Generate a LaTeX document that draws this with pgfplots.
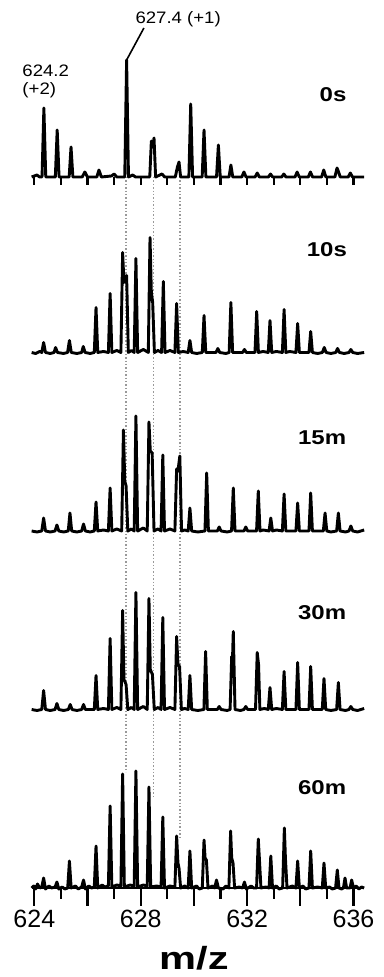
\documentclass[border=0pt]{standalone}
\usepackage{pgfplots}
\usepackage{pgfplotstable}
\pgfplotsset{compat=1.18}
\usepackage{fontspec}
\setmainfont{Liberation Sans}
\usepackage{graphicx}

% spectrum 0 s (heights above its own baseline)
\pgfplotstableread{
x h
623.90 0
624.10 2
624.20 0
624.29 0
624.36 69
624.43 0
624.79 0
624.86 47
624.93 0
625.31 0
625.38 30
625.45 0
625.80 0
625.90 5
626.00 0
626.35 0
626.43 7
626.52 0
626.90 1
627.00 3
627.10 0
627.40 0
627.47 117
627.54 0
627.70 2
627.80 0
628.34 0
628.40 36
628.45 30
628.50 39
628.56 0
628.80 3
628.90 0
629.30 0
629.38 10
629.44 15
629.50 0
629.81 0
629.88 73
629.95 0
630.31 0
630.38 47
630.45 0
630.85 0
630.92 32
630.99 0
631.32 0
631.39 12
631.46 0
631.80 0
631.88 5
631.96 0
632.30 0
632.38 4
632.46 0
632.80 0
632.88 3
632.96 0
633.30 0
633.38 3
633.46 0
633.80 0
633.88 5
633.96 0
634.30 0
634.38 5
634.46 0
634.80 0
634.88 7
634.96 0
635.30 0
635.38 9
635.44 5
635.50 0
635.80 0
635.88 4
635.96 0
636.40 0
}\specA

% spectrum 10 s
\pgfplotstableread{
x h
623.90 0
624.05 -1
624.20 1
624.28 0
624.35 10
624.42 0
624.60 -1
624.74 0
624.80 5
624.87 0
625.10 -1
625.25 0
625.32 12
625.39 0
625.60 -1
625.78 0
625.84 6
625.91 0
626.10 -1
626.255 0
626.32 45
626.385 0
626.60 1
626.785 0
626.85 59
626.915 0
627.10 2
627.255 0
627.32 100
627.37 70
627.41 72
627.47 77
627.535 0
627.65 2
627.755 0
627.82 94
627.885 0
628.10 3
628.285 0
628.35 115
628.40 60
628.45 50
628.515 0
628.65 2
628.785 0
628.85 71
628.915 0
629.10 2
629.285 0
629.35 49
629.415 0
629.60 1
629.785 0
629.85 12
629.915 0
630.10 -1
630.315 0
630.38 37
630.445 0
630.83 0
630.90 4
630.97 0
631.20 -1
631.325 0
631.39 50
631.455 0
631.83 0
631.90 3
631.97 0
632.295 0
632.36 41
632.425 0
632.60 1
632.795 0
632.86 32
632.925 0
633.10 1
633.325 0
633.39 43
633.455 0
633.60 1
633.835 0
633.90 29
633.965 0
634.10 0
634.325 0
634.39 21
634.455 0
634.65 -1
634.83 0
634.90 5
634.97 0
635.15 -1
635.33 0
635.40 4
635.47 0
635.65 -1
635.83 0
635.90 3
635.97 0
636.15 -1
636.40 0
}\specB

% spectrum 15 m
\pgfplotstableread{
x h
623.90 0
624.10 -1
624.28 0
624.35 13
624.42 0
624.60 -1
624.78 0
624.85 6
624.92 0
625.10 -1
625.275 0
625.34 18
625.405 0
625.60 -1
625.78 0
625.85 7
625.92 0
626.10 -1
626.255 0
626.32 29
626.385 0
626.60 1
626.785 0
626.85 43
626.915 0
627.10 2
627.285 0
627.35 101
627.40 50
627.45 45
627.515 0
627.65 2
627.755 0
627.82 115
627.885 0
628.10 3
628.245 0
628.31 109
628.36 80
628.43 78
628.50 0
628.65 2
628.765 0
628.83 76
628.895 0
629.10 2
629.285 0
629.35 62
629.40 60
629.47 75
629.535 0
629.65 1
629.785 0
629.85 23
629.915 0
630.15 -1
630.415 0
630.48 58
630.545 0
630.88 0
630.95 4
631.02 0
631.25 -1
631.415 0
631.48 43
631.545 0
631.88 0
631.95 4
632.02 0
632.355 0
632.42 40
632.485 0
632.60 1
632.825 0
632.89 13
632.955 0
633.10 1
633.325 0
633.39 37
633.455 0
633.60 0
633.835 0
633.90 28
633.965 0
634.10 0
634.325 0
634.39 38
634.455 0
634.65 0
634.865 0
634.93 18
634.995 0
635.15 -1
635.365 0
635.43 18
635.495 0
635.70 -1
635.83 0
635.90 5
635.97 0
636.15 -1
636.40 1
}\specC

% spectrum 30 m
\pgfplotstableread{
x h
623.90 0
624.10 -1
624.28 0
624.35 19
624.42 0
624.60 -1
624.78 0
624.85 6
624.92 0
625.10 -1
625.28 0
625.35 5
625.42 0
625.60 -1
625.78 0
625.85 5
625.92 0
626.10 0
626.255 0
626.32 34
626.385 0
626.60 1
626.785 0
626.85 71
626.915 0
627.10 2
627.255 0
627.32 99
627.37 30
627.45 25
627.515 0
627.65 2
627.755 0
627.82 117
627.885 0
628.10 3
628.245 0
628.31 111
628.36 40
628.44 35
628.51 0
628.65 2
628.765 0
628.83 92
628.895 0
629.10 2
629.285 0
629.35 73
629.40 45
629.46 43
629.53 0
629.65 1
629.785 0
629.85 34
629.915 0
630.15 -1
630.375 0
630.44 58
630.505 0
630.88 0
630.95 3
631.02 0
631.25 -1
631.36 0
631.42 53
631.45 50
631.48 78
631.545 0
631.75 -1
631.88 0
631.95 3
632.02 0
632.315 0
632.38 57
632.43 45
632.48 0
632.65 1
632.795 0
632.86 22
632.925 0
633.10 1
633.325 0
633.39 38
633.455 0
633.65 0
633.835 0
633.90 47
633.965 0
634.15 0
634.325 0
634.39 43
634.455 0
634.65 0
634.825 0
634.89 31
634.955 0
635.15 -1
635.365 0
635.43 27
635.495 0
635.70 -1
635.83 0
635.90 3
635.97 0
636.15 -1
636.40 1
}\specD

% spectrum 60 m
\pgfplotstableread{
x h
623.90 0
623.98 2
624.05 -1
624.12 4
624.20 0
624.28 1
624.35 10
624.42 -1
624.55 2
624.65 0
624.78 1
624.85 6
624.92 -1
625.05 1
625.15 -1
625.255 0
625.32 27
625.385 0
625.55 2
625.65 -1
625.78 1
625.85 8
625.92 -1
626.05 2
626.15 0
626.255 1
626.32 42
626.385 0
626.55 3
626.65 1
626.785 2
626.85 82
626.915 1
627.10 3
627.255 2
627.32 114
627.385 1
627.60 3
627.755 2
627.82 117
627.885 1
628.10 3
628.245 2
628.31 101
628.375 1
628.60 2
628.765 1
628.83 71
628.895 0
629.10 2
629.285 1
629.35 52
629.40 25
629.44 20
629.50 0
629.65 2
629.785 0
629.85 37
629.915 0
630.10 2
630.20 -1
630.315 0
630.38 48
630.42 30
630.47 28
630.53 0
630.70 2
630.78 0
630.85 8
630.92 0
631.10 -1
631.20 2
631.315 0
631.38 57
631.42 30
631.47 25
631.53 0
631.70 1
631.83 0
631.90 6
631.97 -1
632.15 2
632.25 0
632.355 0
632.42 49
632.46 30
632.52 0
632.70 1
632.825 0
632.89 32
632.955 0
633.10 2
633.20 -1
633.335 0
633.40 60
633.44 30
633.50 0
633.70 2
633.835 0
633.90 27
633.965 0
634.10 2
634.20 -1
634.325 0
634.39 37
634.455 0
634.65 1
634.825 0
634.89 25
634.955 0
635.10 1
635.20 -1
635.325 0
635.39 18
635.455 0
635.55 -1
635.62 0
635.68 10
635.74 0
635.87 0
635.93 8
636.00 0
636.10 2
636.20 -1
636.30 1
636.40 0
}\specE

% ticks under the top spectrum
\pgfplotstableread{
x y
624 707
625 707
626 707
627 707
628 707
629 707
630 707
631 707
632 707
633 707
634 707
635 707
636 707
}\topticks

\newcommand{\lab}[1]{{\bfseries\fontsize{10}{12}\selectfont\scalebox{1.2}[1]{#1}}}
\newcommand{\ann}[1]{{\fontsize{8.3}{9.6}\selectfont\scalebox{1.12}[1]{#1}}}

\begin{document}
\begin{tikzpicture}
\begin{axis}[
  x=13.3pt, y=0.5pt,
  xmin=623.9, xmax=636.4, ymin=0, ymax=888,
  axis x line=bottom, axis y line=none,
  x axis line style={-, line width=1.2pt},
  clip=false,
  xtick={624,626,628,630,632,634,636},
  xticklabels={624,,628,,632,,636},
  minor xtick={625,627,629,631,633,635},
  tick align=outside,
  major tick length=9pt, minor tick length=5.5pt,
  tick style={black, line width=1.1pt},
  xticklabel style={font=\fontsize{12.5}{14}\selectfont, inner sep=2pt},
  /pgf/number format/assume math mode=true,
]
% dotted guide lines
\addplot[gray!80, densely dotted, line width=0.7pt] coordinates {(627.45,711) (627.45,116)};
\addplot[gray!80, densely dotted, line width=0.7pt] coordinates {(628.47,711) (628.47,90)};
\addplot[gray!80, densely dotted, line width=0.7pt] coordinates {(629.47,711) (629.47,51)};

% spectra
\addplot[black, line width=1.45pt, line join=round] table[x=x, y expr=\thisrow{h}+711] {\specA};
\addplot[black, line width=1.45pt, line join=round] table[x=x, y expr=\thisrow{h}+535.5] {\specB};
\addplot[black, line width=1.45pt, line join=round] table[x=x, y expr=\thisrow{h}+357] {\specC};
\addplot[black, line width=1.45pt, line join=round] table[x=x, y expr=\thisrow{h}+178.5] {\specD};
\addplot[black, line width=1.45pt, line join=round] table[x=x, y=h] {\specE};

% ticks on the top baseline
\addplot[only marks, mark=|, mark size=2pt, mark options={black, line width=1.1pt}] table[x=x, y=y] {\topticks};

% labels
\node at (axis cs:635.23,793) {\lab{0s}};
\node at (axis cs:635.00,638) {\lab{10s}};
\node at (axis cs:634.82,450) {\lab{15m}};
\node at (axis cs:634.82,275) {\lab{30m}};
\node at (axis cs:634.82,100) {\lab{60m}};

\node[anchor=west, inner sep=0pt] at (axis cs:623.54,817.5) {\ann{624.2}};
\node[anchor=west, inner sep=0pt] at (axis cs:623.54,798) {\ann{(+2)}};
\node[anchor=west, inner sep=0pt] at (axis cs:627.79,869) {\ann{627.4 (+1)}};
\draw[black, line width=0.8pt] (axis cs:628.12,860) -- (axis cs:627.47,828);

\node[anchor=base, inner sep=0pt] at (axis cs:630.0,-82) {{\bfseries\fontsize{16}{18}\selectfont\scalebox{1.3}[1]{m/z}}};

\coordinate (BL) at (axis cs:622.71,-89);
\coordinate (TR) at (axis cs:637.11,888);
\end{axis}
\pgfresetboundingbox
\path[use as bounding box] (BL) rectangle (TR);
\end{tikzpicture}
\end{document}
